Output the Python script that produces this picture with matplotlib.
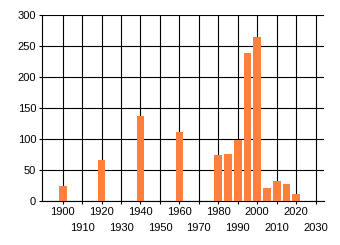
import numpy as np
import matplotlib
matplotlib.use("Agg")
import matplotlib.pyplot as plt

plt.rcParams['font.family'] = ['Liberation Sans', 'DejaVu Sans']

# Data
years = [1900, 1920, 1940, 1960, 1980, 1985, 1990, 1995, 2000, 2005, 2010, 2015, 2020]
counts = [24, 66, 137, 111, 74, 76, 98, 239, 265, 21, 32, 28, 12]
even_ticks = [1900, 1920, 1940, 1960, 1980, 2000, 2020]
odd_ticks = [1910, 1930, 1950, 1970, 1990, 2010, 2030]

fig = plt.figure(figsize=(3.4, 2.45), dpi=100)
ax = fig.add_axes([42 / 340, 44 / 245, 282 / 340, 186 / 245])

ax.bar(years, counts, width=4, color='#ff7f3f', zorder=3)

ax.set_xlim(1889.4, 2034.3)
ax.set_ylim(0, 300)
ax.set_yticks(range(0, 301, 50))

ax.set_xticks(even_ticks)
ax.set_xticks(odd_ticks, minor=True)
ax.set_xticklabels([str(y) for y in even_ticks])
ax.set_xticklabels([str(y) for y in odd_ticks], minor=True)

ax.tick_params(axis='x', which='major', length=2.2, width=0.8, pad=2.2, labelsize=8)
ax.tick_params(axis='x', which='minor', length=2.2, width=0.8, pad=13.5, labelsize=8)
ax.tick_params(axis='y', length=2.2, width=0.8, pad=2, labelsize=8)

ax.grid(True, which='both', axis='x', color='black', linewidth=0.8, zorder=1)
ax.grid(True, which='major', axis='y', color='black', linewidth=0.8, zorder=1)

for s in ['top', 'right']:
    ax.spines[s].set_visible(False)
for s in ['left', 'bottom']:
    ax.spines[s].set_linewidth(0.8)

plt.savefig("out.png", dpi=100)
